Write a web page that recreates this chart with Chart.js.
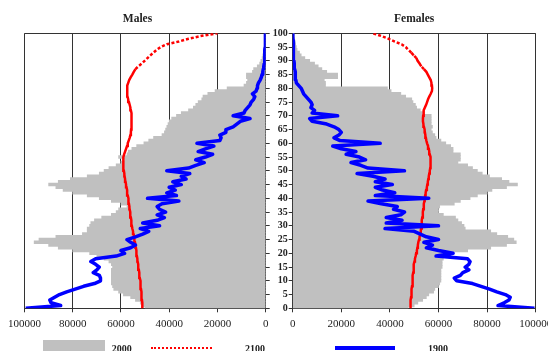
<!DOCTYPE html>
<html>
<head>
<meta charset="utf-8">
<script src="https://cdn.jsdelivr.net/npm/chart.js@4/dist/chart.umd.min.js"></script>
<style>
    html, body { margin: 0; padding: 0; background: #fff; }
    body { width: 548px; height: 351px; overflow: hidden; position: relative; font-family: 'Liberation Serif', 'Times New Roman', serif; }
    .panel { position: absolute; top: 0; height: 351px; }
    #males-wrap { left: 0; width: 275px; }
    #females-wrap { left: 268px; width: 290px; }
    .key { position: absolute; }
    .key-text { position: absolute; top: 343.6px; font-size: 10px; line-height: 10px; font-weight: bold; color: #222; }
</style>
</head>
<body>
<div class="panel" id="males-wrap"><canvas id="malesChart"></canvas></div>
<div class="panel" id="females-wrap"><canvas id="femalesChart"></canvas></div>

<!-- legend row under both panels -->
<div class="key" style="left:43px; top:339.5px; width:62px; height:14px; background:#c0c0c0;"></div>
<div class="key-text" style="left:111.7px;">2000</div>
<div class="key" style="left:150.5px; top:347.3px; width:61px; height:0; border-top:2px dotted #ff0000;"></div>
<div class="key-text" style="left:245px;">2100</div>
<div class="key" style="left:335px; top:346px; width:60px; height:4px; background:#0000ff;"></div>
<div class="key-text" style="left:428px;">1900</div>

<script>
// ages 0..100, one bar / point per year
const ages = [];
for (let a = 0; a <= 100; a++) ages.push(a);

const xTicks = [0, 20000, 40000, 60000, 80000, 100000];

const males2000 = [
    50000, 51000, 52000, 54000, 56000, 59000, 61000, 63000, 63500, 64000,
    64000, 64000, 64000, 64000, 64000, 63500, 64000, 65000, 67000, 70000,
    73000, 80000, 86000, 90000, 96000, 94000, 87000, 76000, 74000, 74000,
    73000, 72500, 71000, 68000, 64000, 62000, 61000, 57500, 60000, 64000,
    69000, 74000, 80000, 84000, 87000, 90000, 86000, 81000, 74000, 69000,
    67000, 65000, 62000, 60000, 58500, 61000, 57500, 57000, 55500, 53500,
    50500, 48500, 46500, 43000, 42000, 41500, 41000, 40500, 40000, 39000,
    37000, 35000, 32000, 30000, 29000, 28000, 26500, 26000, 24000, 21000,
    16000, 9000, 8000, 7500, 8000, 8000, 5500, 5000, 3500, 2500,
    2000, 1500, 1200, 1000, 800, 600, 500, 400, 300, 200, 200
];
const males2100 = [
    51000, 51100, 51200, 51300, 51400, 51500, 51600, 51700, 51800, 51900,
    52000, 52200, 52300, 52500, 52600, 52800, 52900, 53100, 53200, 53400,
    53500, 53700, 53800, 54000, 54200, 54300, 54600, 54800, 55000, 55300,
    55500, 55600, 55800, 55900, 56100, 56200, 56400, 56500, 56700, 56800,
    57000, 57200, 57400, 57500, 57700, 57900, 58100, 58300, 58500, 58600,
    58800, 58900, 59000, 59100, 59100, 59000, 58700, 58300, 57900, 57500,
    57200, 56800, 56400, 56100, 55900, 55800, 55700, 55600, 55600, 55600,
    55600, 55700, 55900, 56100, 56400, 56700, 57000, 57300, 57400, 57500,
    57400, 57300, 57000, 56600, 56000, 55300, 54700, 54000, 52800, 51400,
    50200, 49000, 47800, 46500, 45200, 43500, 41000, 36000, 32000, 27000, 20000
];
const males1900 = [
    99500, 85000, 89000, 89500, 87500, 85500, 82500, 79000, 75500, 71000,
    68500, 68500, 69000, 71500, 70000, 69000, 70500, 72500, 70500, 62000,
    58500, 60000, 56000, 54000, 56000, 57500, 54000, 51000, 48500, 52000,
    44000, 51000, 45000, 42000, 45000, 41500, 44000, 45000, 43000, 36000,
    49000, 37000, 41000, 37500, 40000, 35000, 38500, 33000, 35000, 31500,
    41000, 32000, 29000, 25500, 29000, 25000, 22000, 28000, 25000, 21500,
    28500, 19000, 18500, 19000, 16500, 16500, 13500, 12000, 10500, 6500,
    13500, 9000, 8500, 7500, 6500, 6000, 5000, 4500, 5500, 4000,
    3600, 3400, 3000, 2300, 1800, 1500, 1200, 1000, 800, 600,
    500, 400, 400, 300, 300, 200, 200, 200, 100, 100, 0
];

const females2000 = [
    47500, 50000, 51500, 53500, 55000, 56000, 58000, 58500, 60000, 60500,
    61000, 61000, 61000, 61000, 61000, 61500, 61500, 61500, 62000, 62500,
    66000, 72000, 81500, 88000, 92000, 91000, 88500, 84000, 81500, 71000,
    70500, 69500, 68000, 67000, 62000, 60000, 60000, 60500, 66500, 69000,
    73000, 76000, 80000, 82000, 88000, 92500, 89000, 86000, 81000, 78000,
    76000, 74000, 72000, 68000, 69000, 69000, 69000, 66000, 66000, 65000,
    63000, 61000, 59000, 58500, 57500, 57000, 57500, 57000, 57000, 57000,
    57000, 53500, 52500, 51000, 50500, 49500, 49000, 46500, 44500, 40500,
    39000, 13500, 13500, 13000, 18500, 18500, 14000, 12000, 10500, 9000,
    7000, 5000, 3500, 2800, 1800, 1500, 1200, 1000, 800, 600, 500
];
const females2100 = [
    48300, 48400, 48500, 48600, 48700, 48800, 48900, 49000, 49100, 49200,
    49300, 49400, 49500, 49600, 49700, 49800, 49900, 50100, 50300, 50600,
    50800, 51100, 51300, 51500, 51700, 52000, 52200, 52500, 52700, 52800,
    53000, 53100, 53200, 53300, 53500, 53600, 53700, 53900, 54000, 54200,
    54300, 54500, 54700, 54900, 55200, 55400, 55600, 55800, 56000, 56200,
    56400, 56600, 56800, 56800, 56700, 56600, 56400, 56200, 56000, 55700,
    55300, 55000, 54800, 54600, 54400, 54300, 54000, 53800, 53600, 53600,
    53700, 53800, 54000, 54400, 54900, 55300, 55700, 56200, 56800, 57300,
    57400, 57300, 57100, 56800, 56200, 55600, 55000, 54000, 52900, 52200,
    51400, 50900, 49800, 48800, 47600, 46500, 44800, 42000, 39500, 36500, 33000
];
const females1900 = [
    99500, 84500, 87000, 89000, 89500, 87500, 84000, 81000, 77500, 74000,
    67500, 66500, 69000, 70000, 72500, 71000, 72500, 73000, 72000, 59000,
    66000, 60000, 55000, 57500, 54000, 60000, 55000, 52500, 50000, 38000,
    60000, 38500, 45000, 38500, 44500, 46000, 41500, 43000, 36500, 31000,
    56000, 34000, 42000, 37000, 34000, 41000, 34000, 38000, 33000, 26500,
    46000, 31000, 28000, 24000, 30000, 27500, 22000, 26000, 20000, 16500,
    36000, 19500, 17000, 19000, 20000, 19000, 17000, 14000, 8000, 7000,
    18500, 8000, 9000, 7500, 8000, 7500, 6500, 5500, 4500, 4000,
    3500, 2500, 1500, 1300, 1200, 1000, 1000, 800, 700, 600,
    500, 400, 400, 300, 300, 200, 200, 200, 100, 100, 0
];

Chart.defaults.font.family = "'Liberation Serif', 'Times New Roman', serif";
Chart.defaults.color = '#222';

const gridDark = '#333';

// the 2100 projection is dotted; steep short steps read as solid
const dottedWhereLong = ctx => Math.abs(ctx.p1.x - ctx.p0.x) > 2.5 ? [3, 2] : undefined;

function makeDatasets(bars, future, past) {
    return [{
        type: 'bar',
        label: '2000',
        data: bars,
        yAxisID: 'y',
        backgroundColor: '#c0c0c0',
        borderWidth: 0,
        barPercentage: 1,
        categoryPercentage: 1,
        order: 3
    }, {
        type: 'line',
        label: '2100',
        data: future,
        yAxisID: 'y',
        indexAxis: 'y',
        borderColor: '#ff0000',
        borderWidth: 2.5,
        pointRadius: 0,
        tension: 0,
        segment: { borderDash: dottedWhereLong },
        order: 2
    }, {
        type: 'line',
        label: '1900',
        data: past,
        yAxisID: 'y',
        indexAxis: 'y',
        borderColor: '#0000ff',
        borderWidth: 3.5,
        borderJoinStyle: 'round',
        pointRadius: 0,
        tension: 0,
        order: 1
    }];
}

function valueAxis(reverse) {
    return {
        type: 'linear',
        position: 'bottom',
        reverse: reverse,
        min: 0,
        max: 100000,
        afterBuildTicks: scale => { scale.ticks = xTicks.map(v => ({ value: v })); },
        ticks: {
            font: { size: 11 },
            padding: 5,
            maxRotation: 0,
            autoSkip: false,
            color: '#222',
            callback: v => String(v)
        },
        grid: { color: gridDark, lineWidth: 1, tickLength: 4, tickColor: gridDark },
        border: { color: gridDark, width: 1 },
        afterFit: scale => { scale.height = 42.7; }
    };
}

function ageAxis(position, showLabels, width) {
    return {
        type: 'linear',
        position: position,
        min: 0,
        max: 100,
        offset: false,
        ticks: {
            display: showLabels,
            stepSize: 5,
            autoSkip: false,
            padding: 1,
            font: { size: 10, weight: 'bold' },
            color: '#222'
        },
        // only the top edge gets a line across the plot
        grid: {
            offset: false,
            color: ctx => (ctx.tick && ctx.tick.value === 100) ? gridDark : 'rgba(0,0,0,0)',
            tickColor: gridDark,
            tickLength: 4,
            lineWidth: 1
        },
        border: { color: gridDark, width: 1 },
        afterFit: scale => { scale.width = width; }
    };
}

function titleOpts(text, fullSize) {
    return {
        display: true,
        text: text,
        fullSize: fullSize,
        color: '#222',
        font: { size: 11.5, weight: 'bold' },
        padding: { top: 12.1, bottom: 7.4 }
    };
}

const malesChart = new Chart(document.getElementById('malesChart'), {
    type: 'bar',
    data: { labels: ages, datasets: makeDatasets(males2000, males2100, males1900) },
    options: {
        indexAxis: 'y',
        responsive: true,
        maintainAspectRatio: false,
        animation: false,
        layout: { padding: 0 },
        scales: {
            x: valueAxis(true),
            y: ageAxis('right', false, 9.3),
            // empty strip that keeps room for the 100000 label on the left
            yPad: {
                type: 'linear',
                position: 'left',
                ticks: { display: false },
                grid: { display: false },
                border: { display: false },
                afterFit: scale => { scale.width = 24.5; }
            }
        },
        plugins: {
            legend: { display: false },
            tooltip: { enabled: false },
            title: titleOpts('Males', true)
        }
    }
});

const femalesChart = new Chart(document.getElementById('femalesChart'), {
    type: 'bar',
    data: { labels: ages, datasets: makeDatasets(females2000, females2100, females1900) },
    options: {
        indexAxis: 'y',
        responsive: true,
        maintainAspectRatio: false,
        animation: false,
        layout: { padding: { left: 0, right: 22.3, top: 0, bottom: 0 } },
        scales: {
            x: valueAxis(false),
            y: ageAxis('left', true, 24.7)
        },
        plugins: {
            legend: { display: false },
            tooltip: { enabled: false },
            title: titleOpts('Females', false)
        }
    }
});
</script>
</body>
</html>
